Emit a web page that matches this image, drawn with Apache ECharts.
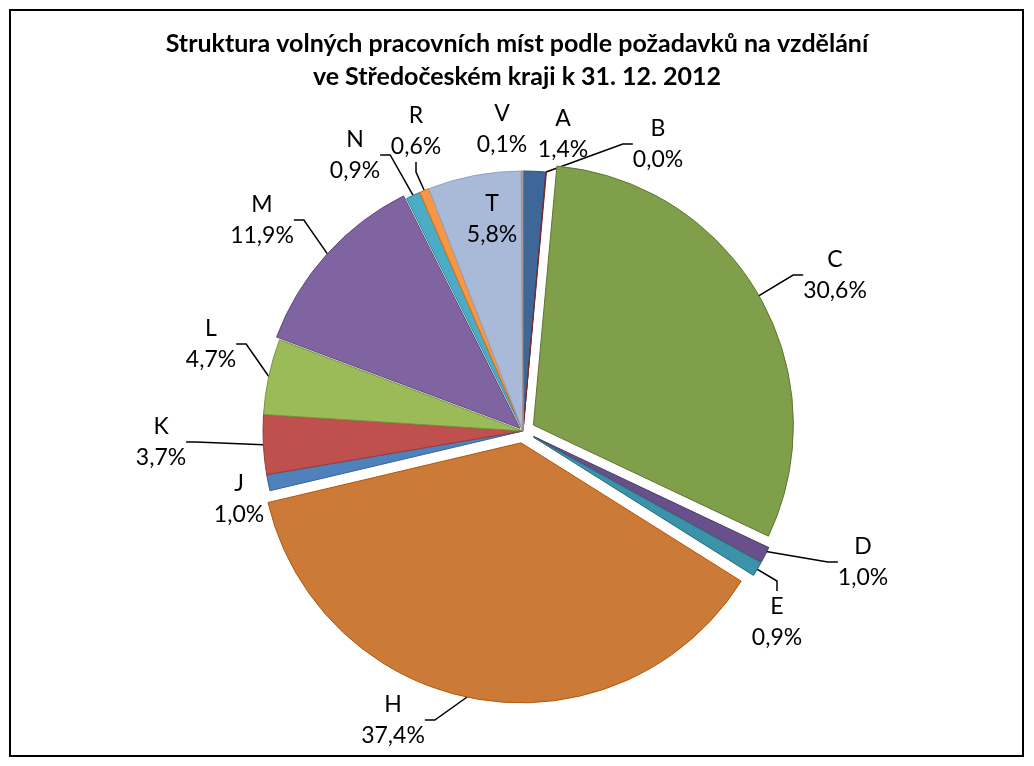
<!DOCTYPE html>
<html>
<head>
<meta charset="utf-8">
<script src="https://cdn.jsdelivr.net/npm/echarts@6/dist/echarts.min.js"></script>
<style>
  html, body { margin: 0; padding: 0; background: #fff; }
  #chart { width: 1034px; height: 766px; }
</style>
</head>
<body>
<div id="chart"></div>
<script>
// kategorie vzdělání a jejich podíl (%)
var kategorie = ['A', 'B', 'C', 'D', 'E', 'H', 'J', 'K', 'L', 'M', 'N', 'R', 'T', 'V'];
var podil = [1.4, 0.04, 30.6, 1.0, 0.9, 37.4, 1.0, 3.7, 4.7, 11.9, 0.9, 0.6, 5.8, 0.1];

// barvy výsečí a jejich okraje
var barvy = ['#3c6798', '#8b2b2b', '#7f9f4a', '#68508c', '#3a93a9', '#cc7a38',
             '#4f81bd', '#c0504d', '#9bbb59', '#8064a2', '#4bacc6', '#f79646', '#a9b9d8', '#c9a9a8'];
var okraje = ['#2c4d75', '#772c2a', '#5f7530', '#4d3b62', '#276a7c', '#b65708',
              '#3a6494', '#963c3a', '#76923c', '#5f497a', '#31849b', '#e36c09', '#8ea3c8', '#a88a89'];

// vysunuté výseče a o kolik px
var odsazeni = { C: 12, D: 12, E: 12, H: 12, M: 4 };
// popisky bez odkazové čáry
var bezCary = ['A', 'J', 'T', 'V'];

// umístění popisků (střed textu)
var popisky = {
  A: [563, 134], B: [658, 144], C: [835, 275], D: [863, 562], E: [777, 622],
  H: [393, 720], J: [239, 499], K: [161, 442], L: [211, 344], M: [262, 220],
  N: [355, 155], R: [416, 131], T: [492, 219], V: [502, 129]
};

var pismo = 'Lato';
var pruhledna = 'rgba(0,0,0,0)';

function popisek(p) {
  return p.name + '\n' + p.value.toFixed(1).replace('.', ',') + '%';
}

function rozlozeni(p) {
  var pos = popisky[kategorie[p.dataIndex]];
  return { x: pos[0], y: pos[1], align: 'center', verticalAlign: 'middle' };
}

var spolecne = {
  type: 'pie',
  center: [523, 431],
  radius: 260,
  startAngle: 90,
  clockwise: true,
  avoidLabelOverlap: false,
  emphasis: { disabled: true },
  label: {
    show: true,
    position: 'outside',
    color: '#000',
    fontFamily: pismo,
    fontSize: 23,
    lineHeight: 31,
    align: 'center',
    formatter: popisek
  },
  labelLine: {
    show: true,
    length: 10,
    length2: 10,
    lineStyle: { color: '#000', width: 1.5 }
  },
  labelLayout: rozlozeni
};

// sestaví data jedné řady: viditelné jsou jen výseče, pro které vrací kresli() true
function sestav(kresli, popisovat, vybrat) {
  var out = [];
  for (var i = 0; i < kategorie.length; i++) {
    var k = kategorie[i];
    var vidim = kresli(k);
    var sPopiskem = popisovat(k);
    out.push({
      name: k,
      value: podil[i],
      selected: vidim && vybrat,
      itemStyle: vidim
        ? { color: barvy[i], borderColor: okraje[i], borderWidth: 1 }
        : { color: pruhledna, borderWidth: 0 },
      label: { show: sPopiskem },
      labelLine: { show: sPopiskem && bezCary.indexOf(k) < 0 }
    });
  }
  return out;
}

function jeVysunuta(k) { return odsazeni[k] != null; }

var rady = [];
// popisky vysunutých výsečí (pod výsečemi, čára začíná pod vysunutou výsečí)
rady.push(Object.assign({}, spolecne, {
  name: 'popisky', z: 1, silent: true,
  data: sestav(function () { return false; }, jeVysunuta, false)
}));
// nevysunuté výseče
rady.push(Object.assign({}, spolecne, {
  name: 'podíl', z: 3,
  data: sestav(function (k) { return !jeVysunuta(k); }, function (k) { return !jeVysunuta(k); }, false)
}));
// vysunuté výseče, jedna řada pro každou velikost odsazení
var velikosti = [];
for (var k in odsazeni) {
  if (velikosti.indexOf(odsazeni[k]) < 0) velikosti.push(odsazeni[k]);
}
velikosti.forEach(function (o) {
  rady.push(Object.assign({}, spolecne, {
    name: 'vysunuté ' + o, z: 3,
    selectedMode: 'multiple',
    selectedOffset: o,
    select: { itemStyle: {} },
    data: sestav(function (k) { return odsazeni[k] === o; }, function () { return false; }, true)
  }));
});

var chart = echarts.init(document.getElementById('chart'), null, { renderer: 'canvas' });

chart.setOption({
  animation: false,
  title: {
    text: 'Struktura volných pracovních míst podle požadavků na vzdělání\nve Středočeském kraji k 31. 12. 2012',
    left: 'center',
    top: 22,
    textStyle: {
      fontFamily: pismo,
      fontWeight: 'bold',
      fontSize: 25,
      lineHeight: 33,
      color: '#000'
    }
  },
  graphic: [{
    type: 'rect',
    shape: { x: 10, y: 10, width: 1013, height: 746 },
    style: { fill: 'none', stroke: '#000', lineWidth: 2 },
    silent: true
  }],
  series: rady
});
</script>
</body>
</html>
